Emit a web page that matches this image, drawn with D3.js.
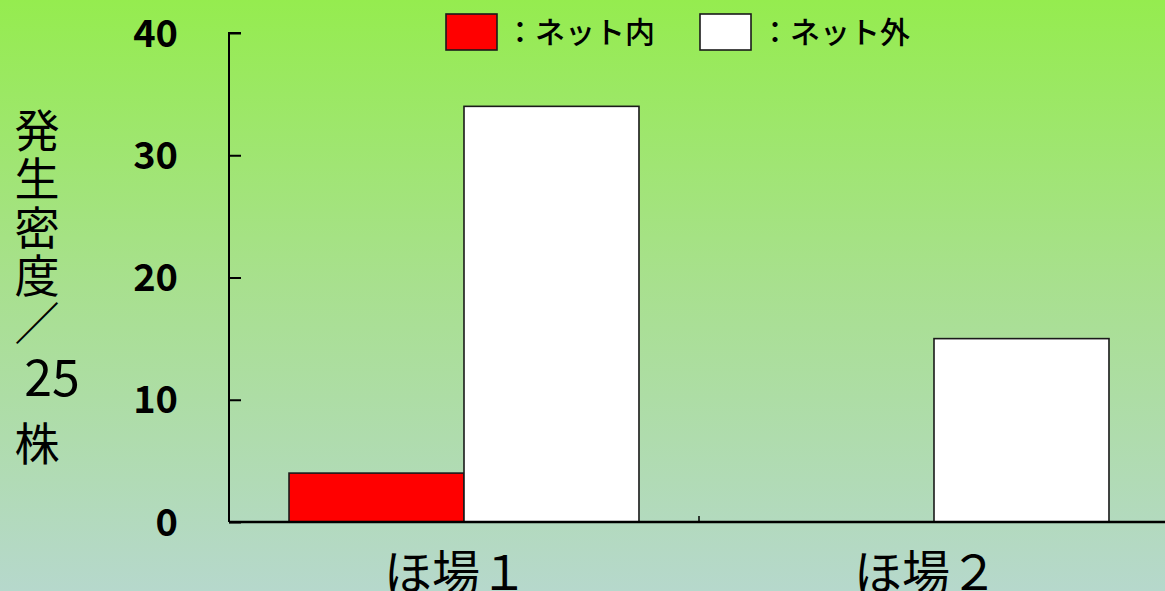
<!DOCTYPE html>
<html>
<head>
<meta charset="utf-8">
<script src="https://cdn.jsdelivr.net/npm/d3@7"></script>
<style>
html,body{margin:0;padding:0;}
svg{display:block;}
</style>
</head>
<body>
<svg id="chart" width="1165" height="591"></svg>
<script>
const categories = ["ほ場１", "ほ場２"];
const seriesNames = ["：ネット内", "：ネット外"];
const netInside = [4, 0];
const netOutside = [34, 15];
const yTicks = [0, 10, 20, 30, 40];
const yLabelParts = ["発", "生", "密", "度", "／", "25", "株"];

const W = 1165, H = 591;
const svg = d3.select("#chart");

const defs = svg.append("defs");
const grad = defs.append("linearGradient").attr("id", "bg").attr("x1", 0).attr("y1", 0).attr("x2", 0).attr("y2", 1);
grad.append("stop").attr("offset", "0%").attr("stop-color", "#95ec4f");
grad.append("stop").attr("offset", "48%").attr("stop-color", "#a8e08e");
grad.append("stop").attr("offset", "100%").attr("stop-color", "#b6d8cc");
svg.append("rect").attr("width", W).attr("height", H).attr("fill", "url(#bg)");

const x0 = 229, x1 = 1169, yTop = 33, yBase = 522;
const x = d3.scaleBand().domain(categories).range([x0, x1]).paddingInner(0).paddingOuter(0);
const y = d3.scaleLinear().domain([0, 40]).range([yBase, yTop]);
const sub = d3.scaleBand().domain(seriesNames).range([0, x.bandwidth()]).paddingOuter(0.343).paddingInner(0);

const data = categories.map((c, i) => ({cat: c, vals: [netInside[i], netOutside[i]]}));
const colors = ["#ff0000", "#ffffff"];

const g = svg.append("g");
data.forEach(d => {
  d.vals.forEach((v, j) => {
    if (v <= 0) return;
    g.append("rect")
      .attr("x", x(d.cat) + sub(seriesNames[j]))
      .attr("y", y(v))
      .attr("width", sub.bandwidth())
      .attr("height", y(0) - y(v))
      .attr("fill", colors[j])
      .attr("stroke", "#1a1a1a")
      .attr("stroke-width", 1.6);
  });
});

// y axis
const yAxis = d3.axisRight(y).tickValues(yTicks).tickSize(12).tickFormat("");
const ya = svg.append("g").attr("transform", `translate(${x0},0)`).call(yAxis);
ya.select(".domain").attr("stroke", "#000").attr("stroke-width", 2).attr("d", `M12,${yTop}H0V${yBase}`);
ya.selectAll(".tick line").attr("stroke", "#000").attr("stroke-width", 2);

svg.append("g").selectAll("text").data(yTicks).join("text")
  .attr("x", 178).attr("y", d => y(d))
  .attr("dy", "0.36em")
  .attr("text-anchor", "end")
  .attr("font-family", "'Noto Sans CJK JP', 'Liberation Sans', sans-serif")
  .attr("font-weight", 700)
  .attr("font-size", 38)
  .attr("fill", "#000")
  .text(d => d);

// x axis
const xAxis = d3.axisTop(x).tickSize(0).tickFormat("");
const xa = svg.append("g").attr("transform", `translate(0,${yBase})`).call(xAxis);
xa.select(".domain").attr("stroke", "#000").attr("stroke-width", 2.4).attr("d", `M${x0},0H${x1}`);
xa.selectAll(".tick").remove();
// middle category separator tick
xa.append("line").attr("x1", x(categories[1])).attr("x2", x(categories[1])).attr("y1", 0).attr("y2", -6)
  .attr("stroke", "#000").attr("stroke-width", 1.5);

svg.append("g").selectAll("text").data(categories).join("text")
  .attr("x", d => x(d) + x.bandwidth() / 2 - 8)
  .attr("y", 590)
  .attr("text-anchor", "middle")
  .attr("font-family", "'Noto Sans CJK JP', sans-serif")
  .attr("font-size", 48)
  .attr("fill", "#000")
  .text(d => d);

// y label (vertical stacked)
const labY = [132, 180, 229, 277, 325, 378, 445];
svg.append("g").selectAll("text").data(yLabelParts).join("text")
  .attr("x", (d, i) => i === 5 ? 52 : 37)
  .attr("y", (d, i) => labY[i])
  .attr("dy", "0.36em")
  .attr("text-anchor", "middle")
  .attr("font-family", "'Noto Sans CJK JP', sans-serif")
  .attr("font-size", (d, i) => i === 5 ? 50 : 45)
  .attr("fill", "#000")
  .text(d => d);

// legend
const leg = svg.append("g");
const legX = [446, 700], legTX = [505, 760];
seriesNames.forEach((s, i) => {
  leg.append("rect").attr("x", legX[i]).attr("y", 14).attr("width", 51).attr("height", 36)
    .attr("fill", colors[i]).attr("stroke", "#1a1a1a").attr("stroke-width", 1.6);
  leg.append("text").attr("x", legTX[i]).attr("y", 32).attr("dy", "0.36em")
    .attr("font-family", "'Noto Sans CJK JP', sans-serif")
    .attr("font-size", 30).attr("font-weight", 500).attr("fill", "#000")
    .text(s);
});
</script>
</body>
</html>
